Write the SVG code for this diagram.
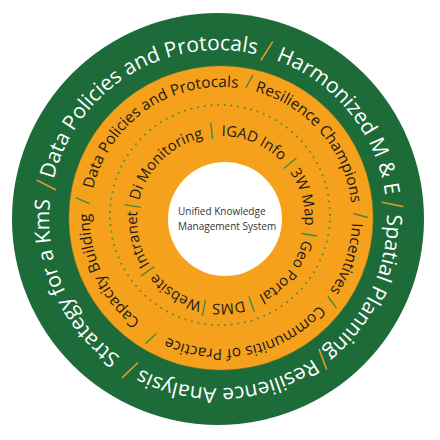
<svg xmlns="http://www.w3.org/2000/svg" width="440" height="440" viewBox="0 0 440 440">
<style>
text{font-family:"Open Sans","Noto Sans","Liberation Sans",sans-serif;}
.outer{font-size:21px;fill:#ffffff;}
.mid{font-size:15.4px;fill:#1a1a1a;}
.inner{font-size:14.8px;fill:#1a1a1a;}
.center{font-size:10px;fill:#333333;}
.tickO{stroke:#e39a2a;stroke-width:1.6;stroke-linecap:round;}
.tickG{stroke:#3f8a3f;stroke-width:1.4;stroke-linecap:round;}
</style>
<defs>
<path id="pO" d="M218,50 A169,169 0 0 1 218,388 A169,169 0 0 1 218,50 A169,169 0 0 1 218,388 A169,169 0 0 1 218,50"/>
<path id="pM" d="M221,87 A131,131 0 0 1 221,349 A131,131 0 0 1 221,87 A131,131 0 0 1 221,349 A131,131 0 0 1 221,87"/>
<path id="pI" d="M221,136 A84,84 0 0 1 221,304 A84,84 0 0 1 221,136 A84,84 0 0 1 221,304 A84,84 0 0 1 221,136"/>
</defs>
<g id="rings">
<circle cx="218" cy="219" r="206" fill="#1d6b38"/>
<circle cx="221" cy="218" r="152" fill="#f5a11c"/>
<circle cx="221" cy="218" r="152" fill="none" stroke="#c9861c" stroke-width="1" stroke-dasharray="1 1.5"/>
<circle cx="220" cy="215" r="110" fill="none" stroke="#4d8b3a" stroke-width="2" stroke-dasharray="0 6.7" stroke-linecap="round"/>
<circle cx="225" cy="219" r="57" fill="#ffffff"/>
</g>
<g id="outer-labels" class="outer">
<g id="strategy-kms"><text text-anchor="middle"><textPath href="#pO" startOffset="84.167%">Strategy for a KmS</textPath></text></g>
<g id="outer-data-policies"><text text-anchor="middle"><textPath href="#pO" startOffset="45.61%">Data Policies and Protocals</textPath></text></g>
<g id="harmonized-me"><text text-anchor="middle"><textPath href="#pO" startOffset="57.083%">Harmonized M &amp; E</textPath></text></g>
<g id="spatial-planning"><text text-anchor="middle"><textPath href="#pO" startOffset="65.972%">Spatial Planning</textPath></text></g>
<g id="resilience-analysis"><text text-anchor="middle"><textPath href="#pO" startOffset="74.514%">Resilience Analysis</textPath></text></g>
</g>
<g id="middle-labels" class="mid">
<g id="capacity-building"><text text-anchor="middle"><textPath href="#pM" startOffset="84.028%">Capacity Building</textPath></text></g>
<g id="mid-data-policies"><text text-anchor="middle"><textPath href="#pM" startOffset="45.153%">Data Policies and Protocals</textPath></text></g>
<g id="resilience-champions"><text text-anchor="middle"><textPath href="#pM" startOffset="56.84%">Resilience Champions</textPath></text></g>
<g id="incentives"><text text-anchor="middle"><textPath href="#pM" startOffset="65%">Incentives</textPath></text></g>
<g id="communities-of-practice"><text text-anchor="middle"><textPath href="#pM" startOffset="73.333%">Communitis of Practice</textPath></text></g>
</g>
<g id="inner-labels" class="inner">
<g id="di-monitoring"><text text-anchor="middle"><textPath href="#pI" startOffset="43.819%">Di Monitoring</textPath></text></g>
<g id="igad-info"><text text-anchor="middle"><textPath href="#pI" startOffset="53.194%">IGAD Info</textPath></text></g>
<g id="map-3w"><text text-anchor="middle"><textPath href="#pI" startOffset="60.347%">3W Map</textPath></text></g>
<g id="geo-portal"><text text-anchor="middle"><textPath href="#pI" startOffset="67.847%">Geo Portal</textPath></text></g>
<g id="dms"><text text-anchor="middle"><textPath href="#pI" startOffset="74.306%">DMS</textPath></text></g>
<g id="website"><text text-anchor="middle"><textPath href="#pI" startOffset="79.444%">Website</textPath></text></g>
<g id="intranet"><text text-anchor="middle"><textPath href="#pI" startOffset="85.694%">Intranet</textPath></text></g>
</g>
<g id="separators">
<line class="tickO" x1="55.61" y1="189.78" x2="37.11" y2="180.22"/>
<line class="tickO" x1="261.26" y1="59.77" x2="272.4" y2="42.18"/>
<line class="tickO" x1="382.16" y1="202.33" x2="402.57" y2="206.42"/>
<line class="tickO" x1="319.13" y1="349.38" x2="326.48" y2="368.86"/>
<line class="tickO" x1="137.5" y1="363.03" x2="122.44" y2="377.41"/>
<line class="tickG" x1="88.8" y1="203.41" x2="76.39" y2="197.93"/>
<line class="tickG" x1="246.15" y1="87.4" x2="252.6" y2="75.46"/>
<line class="tickG" x1="353.93" y1="213.59" x2="367" y2="217.23"/>
<line class="tickG" x1="328.19" y1="296.74" x2="336.21" y2="307.69"/>
<line class="tickG" x1="155.91" y1="333.99" x2="146.03" y2="343.28"/>
<line class="tickG" x1="140.01" y1="207.17" x2="125.19" y2="204.83"/>
<line class="tickG" x1="212.43" y1="138.45" x2="210.86" y2="123.53"/>
<line class="tickG" x1="284.36" y1="167.96" x2="295.95" y2="158.44"/>
<line class="tickG" x1="301.88" y1="233.53" x2="316.67" y2="236.01"/>
<line class="tickG" x1="249.05" y1="297.05" x2="254.18" y2="311.15"/>
<line class="tickG" x1="205.35" y1="300.49" x2="202.49" y2="315.22"/>
<line class="tickG" x1="153.83" y1="267.03" x2="141.54" y2="275.64"/>
</g>
<g id="center-node" class="center">
<text x="178" y="215">Unified Knowledge</text>
<text x="178" y="230">Management System</text>
</g>
</svg>
